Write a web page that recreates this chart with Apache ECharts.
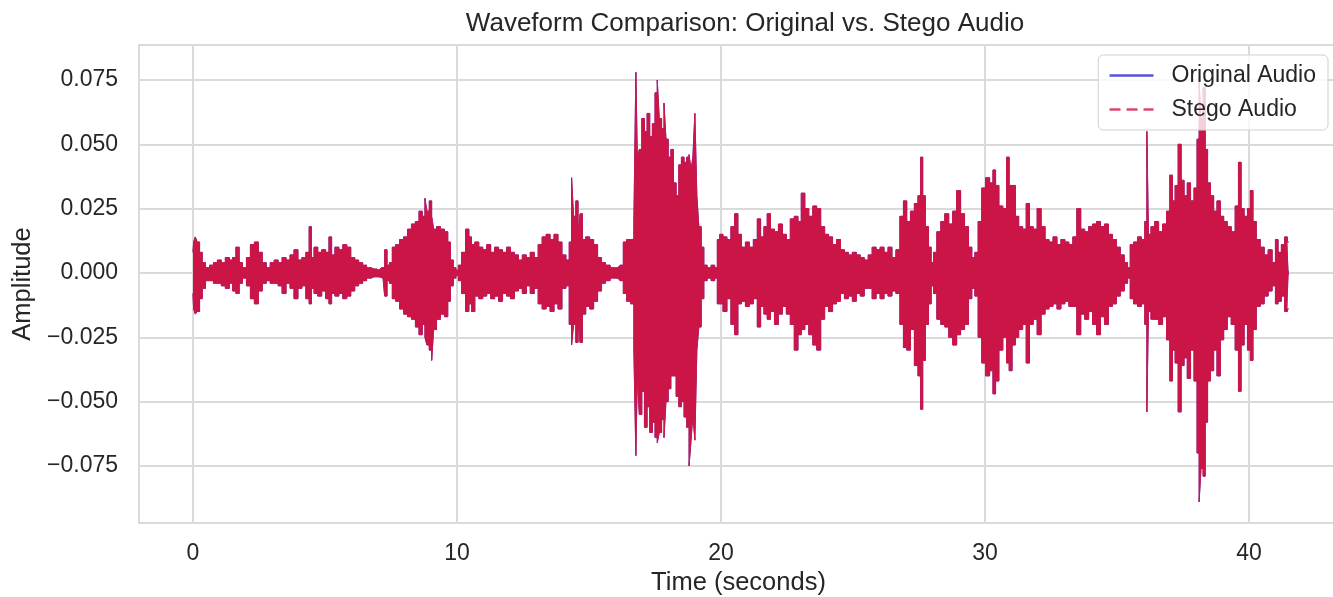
<!DOCTYPE html>
<html><head><meta charset="utf-8">
<script src="https://cdn.jsdelivr.net/npm/echarts@6/dist/echarts.min.js"></script>
<style>html,body{margin:0;padding:0;background:#fff;} #chart{width:1333px;height:597px;}</style>
</head><body><div id="chart"></div>
<script>
// Envelope of the waveform: time (s), upper peak, lower peak
const timeSec = [
  0.00,0.05,0.12,0.20,0.30,0.40,0.55,0.70,0.85,1.00,
  1.15,1.30,1.45,1.55,1.70,1.80,1.95,2.10,2.25,2.40,
  2.55,2.70,2.85,3.00,3.15,3.30,3.45,3.60,3.75,3.90,
  4.05,4.20,4.35,4.45,4.52,4.65,4.80,4.95,5.10,5.20,
  5.30,5.45,5.60,5.75,5.90,6.05,6.20,6.35,6.50,6.65,
  6.85,7.05,7.20,7.32,7.38,7.50,7.60,7.75,7.90,8.05,
  8.20,8.35,8.50,8.62,8.75,8.82,8.90,9.00,9.08,9.15,
  9.30,9.45,9.60,9.70,9.80,9.92,10.00,10.10,10.25,10.40,
  10.50,10.60,10.75,10.90,11.05,11.20,11.35,11.50,11.65,11.80,
  11.95,12.10,12.25,12.40,12.55,12.70,12.85,13.00,13.15,13.30,
  13.45,13.60,13.75,13.90,14.05,14.20,14.30,14.38,14.45,14.55,
  14.62,14.70,14.80,14.95,15.10,15.25,15.40,15.55,15.70,15.90,
  16.10,16.25,16.35,16.50,16.65,16.75,16.80,16.86,16.95,17.05,
  17.15,17.25,17.35,17.45,17.55,17.62,17.70,17.80,17.88,17.95,
  18.05,18.15,18.25,18.35,18.45,18.55,18.65,18.75,18.83,18.90,
  18.97,19.05,19.12,19.20,19.30,19.40,19.55,19.70,19.82,19.90,
  20.00,20.15,20.30,20.45,20.58,20.70,20.85,21.00,21.15,21.30,
  21.45,21.55,21.70,21.80,21.95,22.10,22.25,22.40,22.55,22.70,
  22.85,22.98,23.10,23.25,23.40,23.55,23.70,23.85,24.00,24.15,
  24.30,24.45,24.60,24.75,24.90,25.05,25.20,25.35,25.50,25.65,
  25.80,25.95,26.10,26.25,26.40,26.55,26.70,26.85,26.97,27.10,
  27.25,27.40,27.52,27.60,27.68,27.80,27.92,28.00,28.10,28.25,
  28.40,28.55,28.70,28.85,29.00,29.15,29.30,29.45,29.55,29.68,
  29.80,29.95,30.10,30.25,30.35,30.45,30.60,30.75,30.88,30.95,
  31.10,31.20,31.35,31.50,31.62,31.75,31.90,32.05,32.20,32.35,
  32.50,32.65,32.80,32.95,33.10,33.25,33.40,33.55,33.70,33.85,
  34.00,34.15,34.30,34.45,34.60,34.75,34.90,35.05,35.20,35.35,
  35.45,35.55,35.70,35.85,36.00,36.10,36.16,36.22,36.35,36.50,
  36.65,36.80,36.95,37.05,37.15,37.25,37.38,37.48,37.60,37.72,
  37.85,37.98,38.08,38.14,38.22,38.30,38.38,38.48,38.60,38.72,
  38.85,38.98,39.10,39.25,39.40,39.55,39.65,39.75,39.88,40.00,
  40.10,40.20,40.35,40.50,40.65,40.80,40.95,41.05,41.15,41.30,
  41.40,41.50
];
const originalMax = [
  .008,.012,.014,.012,.008,.004,.002,.003,.004,.005,
  .004,.006,.005,.006,.010,.004,.002,.006,.011,.012,
  .008,.004,.002,.004,.005,.004,.006,.005,.007,.009,
  .005,.006,.008,.018,.006,.010,.008,.009,.008,.014,
  .007,.010,.009,.011,.010,.006,.005,.004,.003,.002,
  .0015,.001,.002,.009,.003,.004,.010,.011,.013,.014,
  .017,.019,.020,.024,.022,.029,.024,.028,.022,.017,
  .018,.017,.016,.012,.005,.002,.001,.003,.008,.017,
  .014,.011,.012,.010,.009,.011,.008,.010,.009,.008,
  .010,.008,.007,.005,.007,.006,.008,.006,.011,.014,
  .015,.013,.015,.012,.007,.005,.012,.037,.022,.028,
  .015,.023,.013,.014,.013,.011,.006,.004,.003,.002,
  .002,.003,.012,.013,.013,.020,.078,.045,.048,.060,
  .055,.062,.053,.058,.070,.075,.060,.056,.066,.052,
  .045,.048,.035,.030,.042,.045,.043,.045,.046,.040,
  .045,.062,.030,.018,.010,.003,.002,.003,.002,.013,
  .015,.014,.013,.018,.023,.015,.010,.012,.010,.013,
  .021,.014,.018,.023,.017,.016,.019,.015,.013,.021,
  .022,.020,.031,.025,.022,.026,.025,.018,.015,.014,
  .011,.013,.009,.008,.007,.008,.007,.006,.005,.007,
  .010,.009,.010,.008,.010,.006,.009,.022,.028,.020,
  .024,.027,.030,.045,.030,.018,.010,.004,.008,.016,
  .020,.023,.019,.024,.032,.023,.018,.010,.006,.008,
  .020,.033,.037,.035,.040,.034,.026,.025,.045,.034,
  .034,.022,.018,.017,.027,.018,.017,.025,.018,.013,
  .012,.014,.011,.013,.012,.011,.014,.025,.017,.016,
  .018,.019,.020,.018,.019,.015,.013,.010,.007,.004,
  .002,.011,.012,.014,.013,.020,.055,.015,.018,.020,
  .016,.019,.024,.038,.028,.034,.050,.036,.030,.035,
  .028,.033,.052,.074,.060,.072,.048,.035,.030,.024,
  .028,.022,.020,.018,.016,.026,.043,.025,.022,.025,
  .032,.020,.013,.010,.007,.009,.004,.013,.008,.011,
  .014,.012
];
const originalMin = [
  -.008,-.014,-.016,-.015,-.010,-.006,-.003,-.003,-.004,-.004,
  -.005,-.006,-.004,-.007,-.008,-.004,-.002,-.005,-.010,-.012,
  -.007,-.004,-.003,-.004,-.004,-.005,-.008,-.004,-.006,-.010,
  -.006,-.005,-.010,-.012,-.006,-.008,-.009,-.007,-.010,-.012,
  -.008,-.009,-.008,-.010,-.009,-.007,-.005,-.004,-.003,-.002,
  -.0015,-.0015,-.002,-.009,-.003,-.004,-.010,-.011,-.014,-.016,
  -.017,-.018,-.021,-.024,-.020,-.025,-.028,-.030,-.034,-.022,
  -.018,-.016,-.017,-.011,-.005,-.002,-.001,-.003,-.008,-.015,
  -.012,-.015,-.009,-.010,-.009,-.008,-.010,-.009,-.011,-.008,
  -.009,-.010,-.007,-.006,-.008,-.005,-.008,-.006,-.012,-.014,
  -.013,-.015,-.012,-.014,-.006,-.005,-.020,-.028,-.020,-.027,
  -.018,-.027,-.016,-.013,-.014,-.011,-.007,-.004,-.003,-.002,
  -.002,-.003,-.008,-.011,-.012,-.030,-.071,-.040,-.055,-.046,
  -.060,-.052,-.062,-.058,-.064,-.066,-.062,-.057,-.064,-.050,
  -.045,-.040,-.040,-.048,-.052,-.050,-.056,-.060,-.075,-.065,
  -.055,-.065,-.030,-.021,-.010,-.003,-.002,-.003,-.002,-.012,
  -.012,-.015,-.010,-.020,-.024,-.012,-.011,-.013,-.012,-.010,
  -.021,-.013,-.016,-.018,-.015,-.020,-.016,-.013,-.016,-.020,
  -.030,-.024,-.022,-.020,-.024,-.028,-.030,-.018,-.013,-.015,
  -.012,-.011,-.008,-.010,-.009,-.011,-.008,-.009,-.006,-.006,
  -.010,-.008,-.010,-.008,-.009,-.007,-.008,-.020,-.029,-.030,
  -.022,-.036,-.040,-.053,-.034,-.020,-.012,-.005,-.008,-.018,
  -.020,-.021,-.025,-.028,-.024,-.022,-.020,-.010,-.006,-.009,
  -.025,-.035,-.040,-.038,-.047,-.042,-.030,-.025,-.035,-.038,
  -.028,-.025,-.022,-.020,-.035,-.020,-.018,-.024,-.016,-.014,
  -.013,-.012,-.014,-.012,-.011,-.013,-.013,-.024,-.016,-.018,
  -.015,-.020,-.024,-.017,-.020,-.013,-.012,-.009,-.007,-.004,
  -.002,-.010,-.012,-.013,-.012,-.020,-.054,-.015,-.018,-.018,
  -.020,-.017,-.026,-.042,-.030,-.035,-.054,-.036,-.033,-.041,
  -.030,-.042,-.070,-.089,-.076,-.079,-.058,-.042,-.038,-.030,
  -.040,-.026,-.022,-.017,-.020,-.030,-.046,-.028,-.020,-.030,
  -.034,-.022,-.013,-.012,-.009,-.007,-.005,-.012,-.011,-.009,
  -.015,-.014
];
// The stego signal is indistinguishable from the original at this scale
const stegoMax = originalMax.slice();
const stegoMin = originalMin.slice();

const xTickValues = [0, 10, 20, 30, 40];
const yTickValues = [-0.075, -0.05, -0.025, 0, 0.025, 0.05, 0.075];
const seriesNames = ['Original Audio', 'Stego Audio'];

const FONT = '"Liberation Sans", Arial, sans-serif';
const TXT = '#262626';
const ORIG = '#5b50dc';
const STEGO = '#cb1547';
const pairs = ys => timeSec.map((t, i) => [t, ys[i]]);

// upper envelope fills slightly below zero, lower slightly above, so they overlap with no seam
function env(name, ys, color, z, origin) {
  return {
    name, type: 'line', data: pairs(ys), symbol: 'none', showSymbol: false, z,
    step: 'middle',
    lineStyle: { color, width: 1 }, itemStyle: { color },
    areaStyle: { color, opacity: 1, origin }, emphasis: { disabled: true }, silent: true
  };
}

const chart = echarts.init(document.getElementById('chart'), null, { renderer: 'canvas' });
chart.setOption({
  animation: false,
  backgroundColor: '#ffffff',
  textStyle: { fontFamily: FONT },
  title: {
    text: 'Waveform Comparison: Original vs. Stego Audio',
    left: 740, top: 6, textAlign: 'center',
    textStyle: { fontFamily: FONT, fontSize: 26, fontWeight: 'normal', color: TXT }
  },
  legend: {
    orient: 'vertical', right: 5, top: 55,
    padding: [9, 12, 9, 10], itemGap: 11, itemWidth: 44, itemHeight: 22,
    backgroundColor: 'rgba(255,255,255,0.8)', borderColor: '#d0d0d0', borderWidth: 1, borderRadius: 5,
    textStyle: { fontFamily: FONT, fontSize: 23, color: TXT, padding: [0, 0, 0, 13] },
    data: [
      { name: seriesNames[0], itemStyle: { opacity: 0 }, lineStyle: { color: ORIG, width: 2.5, type: 'solid' } },
      { name: seriesNames[1], itemStyle: { opacity: 0 }, lineStyle: { color: '#e0456f', width: 2.5, type: [11, 6] } }
    ]
  },
  grid: {
    left: 139, right: -5, top: 45, bottom: 74, show: true,
    borderColor: '#cfcfcf', borderWidth: 1.5, containLabel: false, outerBoundsMode: 'none'
  },
  xAxis: {
    type: 'value', min: -2.045, max: 43.37,
    name: 'Time (seconds)', nameLocation: 'middle', nameGap: 47,
    nameTextStyle: { fontFamily: FONT, fontSize: 25.5, color: TXT },
    axisLine: { show: false },
    axisTick: { show: false, customValues: xTickValues },
    axisLabel: { customValues: xTickValues, fontFamily: FONT, fontSize: 23, color: TXT, margin: 19 },
    splitLine: { show: true, lineStyle: { color: '#dadada', width: 2 } }
  },
  yAxis: {
    type: 'value', min: -0.0972, max: 0.0886,
    name: 'Amplitude', nameLocation: 'middle', nameGap: 103,
    nameTextStyle: { fontFamily: FONT, fontSize: 25.5, color: TXT },
    axisLine: { show: false },
    axisTick: { show: false, customValues: yTickValues },
    axisLabel: {
      customValues: yTickValues, fontFamily: FONT, fontSize: 23, color: TXT, margin: 21,
      formatter: v => (v < 0 ? '\u2212' : '') + Math.abs(v).toFixed(3)
    },
    splitLine: { show: true, lineStyle: { color: '#dadada', width: 2 } }
  },
  series: [
    env(seriesNames[0], originalMax, ORIG, 2, -0.0008),
    env(seriesNames[0], originalMin, ORIG, 2, 0.0008),
    env(seriesNames[1], stegoMax, STEGO, 3, -0.0008),
    env(seriesNames[1], stegoMin, STEGO, 3, 0.0008)
  ]
});
</script></body></html>
